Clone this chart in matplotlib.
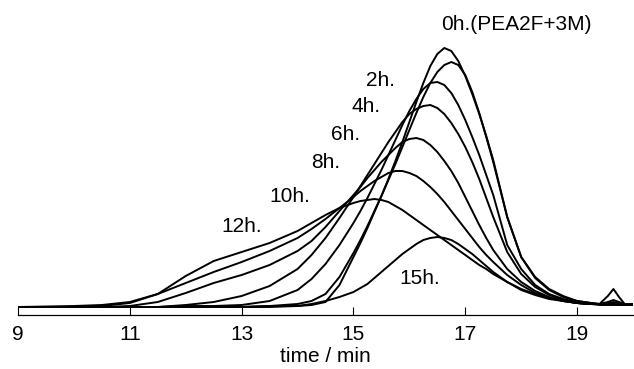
import matplotlib
matplotlib.use('Agg')
import matplotlib.pyplot as plt

plt.rcParams['font.family'] = ['Liberation Sans', 'DejaVu Sans']

# elution time grid (min)
time = [9.0, 10.0, 10.5, 11.0, 11.5, 12.0, 12.5, 13.0, 13.5, 14.0, 14.25, 14.5, 14.75,
        15.0, 15.125, 15.25, 15.375, 15.5, 15.625, 15.75, 15.875, 16.0, 16.125, 16.25,
        16.375, 16.5, 16.625, 16.75, 16.875, 17.0, 17.125, 17.25, 17.375, 17.5,
        17.75, 18.0, 18.25, 18.5, 18.75, 19.0, 19.25, 19.4, 19.55, 19.65, 19.75, 19.85, 20.0]

# detector response (a.u.)
h0 = [0, 0, 0, 0, 0, 0, 0, 0, 1, 1, 2, 5, 22,
      50, 64, 79, 95, 111, 128, 146, 165, 185, 205, 224,
      241, 253, 259, 256, 246, 231, 213, 193, 171, 147,
      90, 50, 30, 18, 11, 6, 4, 3, 11, 18, 10, 3, 3]
h2 = [0, 0, 0, 0, 0, 0, 0, 0, 1, 3, 6, 13, 30,
      54, 67, 81, 96, 111, 127, 143, 160, 177, 194, 210,
      224, 235, 242, 245, 242, 232, 215, 194, 170, 145,
      90, 50, 29, 17, 10, 6, 4, 3, 5, 7, 5, 3, 3]
h4 = [0, 0, 0, 0, 0, 1, 1, 2, 6, 17, 28, 43, 62,
      84, 96, 109, 123, 137, 152, 167, 182, 196, 208, 218,
      224, 225, 222, 214, 202, 187, 170, 152, 132, 112,
      62, 38, 22, 13, 8, 5, 3, 3, 4, 5, 4, 2, 2]
h6 = [0, 0, 0, 0, 0, 2, 5, 11, 21, 38, 52, 69, 89,
      110, 121, 132, 143, 154, 165, 175, 185, 193, 198, 201,
      202, 199, 193, 184, 173, 160, 145, 128, 109, 90,
      55, 33, 20, 12, 7, 4, 3, 3, 3, 3, 3, 2, 2]
h8 = [0, 0, 0, 1, 5, 14, 24, 32, 42, 56, 66, 80, 96,
      112, 120, 129, 137, 145, 152, 159, 165, 168, 169, 167,
      162, 155, 146, 136, 124, 110, 96, 82, 69, 57,
      38, 25, 16, 10, 6, 4, 3, 3, 3, 3, 2, 2, 2]
h10 = [0, 0, 1, 4, 13, 24, 35, 45, 56, 69, 78, 88, 99,
       110, 116, 121, 126, 130, 134, 136, 136, 134, 131, 126,
       120, 113, 105, 96, 87, 78, 69, 60, 52, 45,
       32, 22, 14, 9, 6, 4, 3, 2, 2, 2, 2, 2, 2]
h12 = [0, 1, 2, 5, 13, 31, 46, 55, 64, 76, 84, 92, 99,
       104, 106, 107, 108, 107, 105, 101, 97, 92, 87, 82,
       77, 72, 67, 62, 57, 52, 47, 42, 38, 33,
       25, 18, 13, 9, 7, 4, 3, 3, 3, 3, 2, 2, 2]
h15 = [0, 0, 0, 0, 0, 0, 0, 0, 0, 1, 3, 6, 10,
       15, 19, 23, 29, 35, 41, 47, 53, 58, 63, 67,
       69, 70, 69, 67, 63, 58, 53, 47, 41, 35,
       25, 17, 12, 8, 6, 4, 3, 3, 3, 3, 2, 2, 2]

series = [h0, h2, h4, h6, h8, h10, h12, h15]

labels = ['0h.(PEA2F+3M)', '2h.', '4h.', '6h.', '8h.', '10h.', '12h.', '15h.']
label_x = [17.91, 15.49, 15.22, 14.86, 14.50, 13.87, 13.00, 16.19]
label_y = [282, 227, 200, 172, 144, 111, 81, 29]

fig = plt.figure(figsize=(6.34, 3.69), dpi=100)
ax = fig.add_axes([18 / 634, 54 / 369, 615 / 634, 315 / 369])

for h in series:
    ax.plot(time, h, color='black', lw=1.4, solid_joinstyle='round')

for txt, x, y in zip(labels, label_x, label_y):
    ax.text(x, y, txt, ha='center', va='center', fontsize=15)

ax.set_xlim(9, 20)
ax.set_ylim(-8, 307)
ax.set_xticks([9, 11, 13, 15, 17, 19])
ax.set_yticks([])
for s in ['top', 'left', 'right']:
    ax.spines[s].set_visible(False)
ax.spines['bottom'].set_linewidth(0.9)
ax.tick_params(axis='x', direction='in', length=5.5, width=0.8, pad=7, labelsize=15)
ax.set_xlabel('time / min', fontsize=15, labelpad=2)

fig.savefig('out.png', dpi=100)
